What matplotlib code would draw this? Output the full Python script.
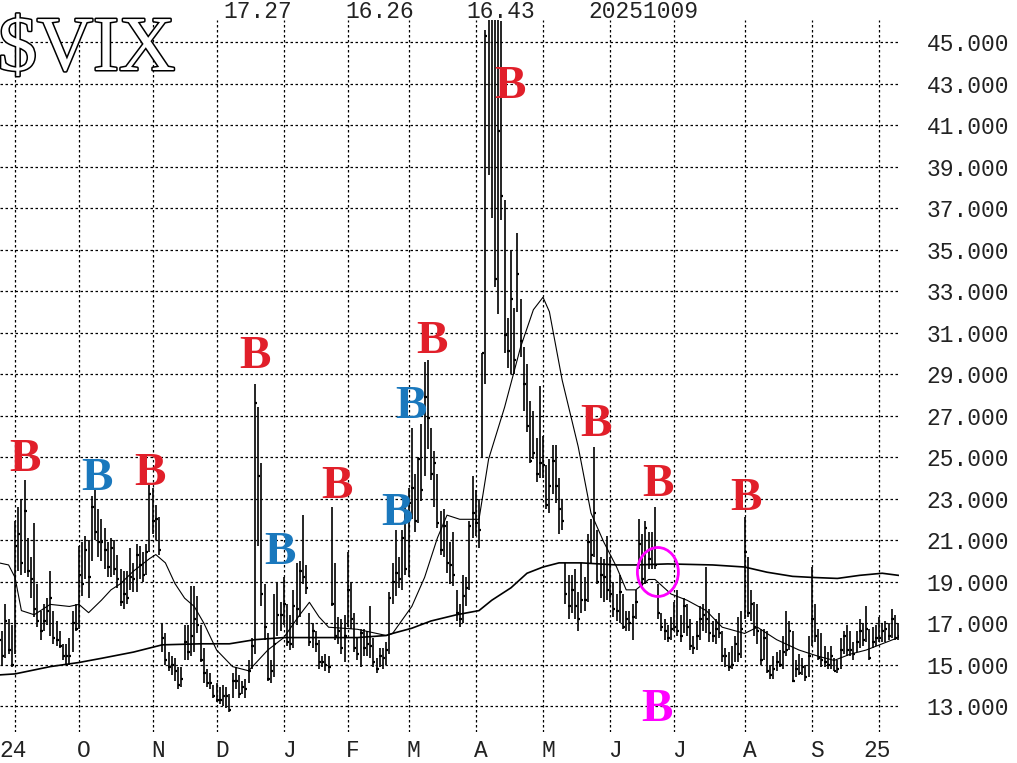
import numpy as np
import matplotlib.pyplot as plt
from matplotlib.patches import Ellipse
from matplotlib import patheffects
import matplotlib.transforms as mtransforms

# trading days per month on the chart (26 Aug 2024 .. 9 Oct 2025)
month_days = [5, 20, 23, 20, 21, 20, 19, 21, 21, 21, 20, 22, 21, 21, 7]
month_labels = ['', '24', 'O', 'N', 'D', 'J', 'F', 'M', 'A', 'M', 'J', 'J', 'A', 'S', '25']

# daily high / low / close, one month per line
high = [
    17.0, 16.6, 17.9, 17.2, 16.9,
    21.9, 22.6, 23.0, 23.9, 21.1, 20.2, 21.8, 18.9, 17.6, 17.9, 18.2, 19.5, 17.6, 17.1, 16.6, 16.0, 16.0, 16.3, 17.6, 17.9,
    20.7, 20.9, 21.2, 21.0, 23.1, 23.4, 22.5, 22.0, 21.6, 20.9, 21.1, 21.0, 20.3, 19.6, 19.5, 19.5, 20.6, 19.9, 20.8, 20.7, 20.4, 20.8, 23.7,
    23.5, 22.7, 22.1, 17.0, 16.5, 15.6, 15.4, 15.3, 14.9, 14.9, 16.9, 16.9, 18.8, 18.8, 18.3, 16.9, 15.8, 14.8, 14.6, 14.0,
    14.1, 13.9, 14.0, 13.9, 13.6, 14.6, 14.9, 14.5, 14.2, 14.3, 15.2, 16.3, 28.5, 27.4, 24.7, 18.9, 16.5, 15.2, 18.4, 19.0, 18.0,
    19.2, 17.9, 17.4, 18.6, 19.9, 20.0, 22.2, 19.8, 17.5, 17.0, 16.6, 16.2, 15.4, 15.5, 15.4, 22.6, 19.9, 17.3, 17.2, 17.4,
    20.4, 19.0, 17.5, 16.3, 16.7, 16.7, 16.6, 17.8, 16.3, 15.3, 15.8, 15.8, 16.1, 18.5, 19.9, 21.5, 20.2, 21.5, 22.7,
    23.5, 26.4, 24.2, 25.0, 26.6, 29.6, 29.7, 26.4, 25.3, 24.2, 22.4, 22.5, 21.9, 20.9, 21.4, 18.6, 17.9, 19.3, 19.2, 21.9, 24.1,
    23.4, 23.0, 30.0, 45.6, 60.1, 57.5, 57.5, 54.9, 46.0, 37.4, 31.7, 35.0, 32.2, 35.8, 32.6, 30.3, 29.5, 27.7, 27.2, 25.9, 28.4,
    26.0, 24.6, 24.9, 25.6, 25.6, 24.0, 23.0, 19.9, 19.3, 19.3, 19.6, 18.5, 19.9, 19.2, 21.3, 22.0, 25.5, 21.5, 20.2, 20.1, 21.2,
    20.2, 19.0, 18.4, 19.3, 18.4, 17.6, 17.6, 17.9, 18.6, 22.0, 21.3, 21.9, 21.4, 21.4, 22.6, 18.9, 17.5, 17.2, 16.9, 17.3,
    18.0, 18.6, 17.4, 18.2, 17.9, 17.2, 16.4, 17.1, 17.8, 17.9, 19.7, 17.7, 17.1, 17.2, 17.5, 16.6, 15.8, 15.6, 15.9, 16.4, 17.3, 17.6,
    22.1, 20.2, 18.6, 18.0, 17.9, 16.7, 16.7, 16.6, 15.0, 15.4, 15.6, 15.7, 16.4, 17.6, 17.1, 16.6, 15.2, 15.5, 15.3, 15.0, 16.4,
    19.7, 17.9, 16.7, 16.5, 15.9, 15.6, 15.9, 15.3, 15.2, 16.3, 16.6, 16.9, 16.6, 16.1, 16.6, 17.2, 17.0, 17.8, 16.7, 16.8, 16.9,
    17.3, 17.0, 17.1, 17.0, 17.7, 17.4, 17.0,
]
low = [
    15.6, 15.0, 15.3, 15.5, 14.9,
    15.5, 19.5, 19.3, 19.4, 19.2, 18.2, 17.3, 16.8, 16.2, 16.6, 16.9, 16.4, 16.0, 15.9, 15.8, 15.2, 15.0, 15.0, 15.6, 16.6,
    16.7, 18.3, 19.1, 18.2, 20.0, 21.0, 20.2, 20.0, 19.6, 19.2, 19.2, 19.3, 18.7, 17.8, 17.7, 17.9, 18.6, 18.5, 18.5, 19.1, 19.0, 19.3, 20.4,
    21.3, 21.0, 20.3, 15.6, 15.0, 14.7, 14.5, 14.2, 13.8, 13.9, 15.2, 15.2, 15.4, 15.6, 16.5, 15.1, 14.1, 13.9, 13.8, 13.4,
    13.2, 13.1, 13.0, 12.9, 12.7, 13.4, 13.8, 13.4, 13.6, 13.4, 14.1, 14.8, 15.5, 20.7, 17.8, 16.2, 14.2, 14.1, 14.4, 16.4, 16.6,
    16.9, 15.9, 15.7, 15.8, 16.9, 17.3, 18.9, 18.4, 15.9, 15.8, 15.6, 14.8, 14.9, 14.7, 14.6, 17.8, 16.2, 16.0, 15.5, 15.1,
    16.8, 16.7, 15.6, 15.2, 14.9, 15.4, 15.4, 15.3, 14.9, 14.6, 14.9, 14.8, 15.0, 15.5, 17.9, 18.3, 18.7, 18.6, 19.3,
    19.2, 22.0, 21.4, 21.8, 22.9, 24.1, 25.4, 23.9, 22.6, 21.6, 20.3, 20.2, 19.4, 18.9, 18.8, 17.1, 16.8, 17.0, 17.8, 18.6, 21.1,
    21.2, 20.6, 25.0, 28.5, 38.6, 36.5, 33.2, 31.9, 36.4, 30.0, 29.3, 29.0, 29.0, 32.0, 29.8, 27.2, 26.2, 24.7, 24.9, 23.8, 24.0,
    24.0, 22.5, 22.3, 23.2, 22.8, 21.3, 21.5, 17.9, 17.2, 17.5, 17.2, 16.6, 17.5, 17.6, 18.0, 19.9, 20.2, 18.9, 18.2, 18.0, 18.1,
    18.0, 17.3, 17.1, 17.0, 16.7, 16.6, 16.6, 16.2, 17.2, 19.6, 18.8, 18.9, 19.6, 19.6, 19.6, 17.2, 16.6, 16.2, 16.1, 16.2,
    16.6, 16.4, 16.1, 16.5, 16.4, 15.7, 15.5, 15.7, 16.2, 16.6, 16.5, 16.1, 16.1, 16.0, 16.3, 15.1, 14.9, 14.7, 14.8, 15.1, 15.1, 15.3,
    17.2, 17.3, 17.1, 16.4, 16.0, 15.0, 15.2, 14.6, 14.3, 14.3, 14.7, 14.9, 14.8, 15.4, 15.7, 14.2, 14.4, 14.5, 14.5, 14.2, 14.4,
    15.9, 16.1, 15.2, 14.9, 14.9, 14.8, 14.8, 14.7, 14.6, 14.8, 15.5, 15.4, 15.4, 15.2, 15.6, 15.8, 15.9, 16.1, 15.2, 15.8, 15.9,
    16.1, 16.1, 16.1, 16.2, 16.3, 16.2, 16.2,
]
close = [
    16.2, 15.4, 17.1, 15.7, 15.0,
    20.7, 21.3, 19.9, 22.4, 19.5, 19.1, 17.7, 17.1, 16.6, 17.1, 17.6, 18.2, 16.3, 16.2, 15.9, 15.4, 15.4, 15.4, 17.0, 16.7,
    19.3, 18.9, 20.5, 19.2, 22.6, 21.4, 20.9, 20.9, 20.5, 19.7, 20.6, 19.6, 19.1, 18.0, 18.4, 18.2, 19.2, 19.1, 20.3, 19.8, 19.3, 20.4, 23.2,
    21.9, 22.0, 20.5, 16.3, 15.2, 14.9, 15.0, 14.7, 14.0, 14.3, 16.1, 15.6, 16.4, 17.2, 16.9, 15.2, 14.6, 14.1, 14.1, 13.5,
    13.3, 13.3, 13.5, 13.5, 12.8, 14.2, 14.2, 13.6, 13.9, 13.8, 14.7, 15.9, 27.6, 24.1, 18.4, 16.8, 14.3, 14.7, 16.0, 17.4, 17.4,
    17.9, 16.1, 16.0, 17.8, 17.7, 19.5, 19.2, 18.7, 16.1, 16.6, 16.0, 15.1, 15.1, 15.0, 14.9, 17.9, 16.4, 16.6, 15.8, 16.4,
    18.6, 17.2, 15.8, 15.5, 16.5, 15.8, 16.0, 15.9, 15.1, 14.8, 15.4, 15.3, 15.7, 18.2, 19.0, 19.4, 19.1, 21.1, 19.6,
    22.8, 23.5, 21.9, 24.9, 23.4, 27.9, 26.9, 24.2, 24.7, 21.8, 20.5, 21.7, 19.9, 19.8, 19.3, 17.5, 17.2, 18.3, 18.7, 21.7, 22.3,
    21.8, 21.5, 30.0, 45.3, 47.0, 52.3, 33.6, 40.7, 37.6, 30.9, 30.1, 32.6, 29.7, 33.8, 30.6, 28.5, 26.5, 24.8, 25.2, 24.2, 24.7,
    24.6, 22.7, 23.6, 24.8, 23.6, 22.5, 21.9, 18.4, 17.8, 18.6, 17.8, 17.2, 18.1, 18.1, 20.9, 20.3, 22.3, 19.0, 19.3, 19.2, 18.6,
    18.4, 17.7, 17.6, 18.5, 16.8, 17.2, 17.0, 17.3, 18.0, 20.8, 19.1, 21.6, 20.1, 20.6, 19.8, 17.5, 16.8, 16.6, 16.3, 16.7,
    16.8, 16.6, 16.4, 17.8, 16.8, 15.9, 15.8, 16.4, 17.2, 17.4, 17.2, 16.5, 16.4, 16.7, 16.5, 15.4, 15.4, 14.9, 15.0, 16.0, 15.5, 16.7,
    20.4, 17.5, 17.9, 16.8, 16.6, 15.2, 16.3, 14.7, 14.5, 14.8, 15.1, 15.0, 15.6, 15.7, 16.6, 14.2, 14.8, 14.6, 14.9, 14.4, 15.4,
    17.2, 16.4, 15.3, 15.2, 15.1, 15.0, 15.4, 14.7, 14.8, 15.7, 16.4, 15.7, 15.7, 15.5, 16.1, 16.6, 16.2, 16.7, 15.3, 16.1, 16.3,
    16.3, 16.6, 16.7, 16.4, 17.2, 16.3, 16.4,
]

# moving averages (day index, value)
ma20_day = [0, 3, 5, 7, 11, 16, 22, 25, 28, 32, 35, 38, 42, 47, 49, 52, 55, 58, 61, 64, 68, 73, 78, 81, 84,
            89, 94, 97, 100, 103, 112, 121, 123, 129, 133, 137, 140, 144, 150, 153, 158, 163, 167, 170, 172,
            176, 181, 185, 189, 193, 196, 199, 203, 205, 210, 215, 221, 226, 233, 237, 243, 250, 256, 261,
            266, 271, 276, 281]
ma20 = [19.9, 19.8, 19.2, 17.6, 17.4, 17.9, 17.8, 17.9, 17.5, 18.1, 18.6, 18.9, 19.5, 20.1, 20.3, 19.9, 18.9,
        18.2, 17.8, 17.0, 15.7, 14.9, 14.7, 15.2, 15.7, 16.3, 17.4, 18.0, 17.3, 16.8, 16.7, 16.4, 16.5, 17.8,
        19.2, 21.1, 22.2, 22.0, 22.0, 24.9, 27.4, 30.3, 32.1, 32.7, 32.0, 28.7, 25.5, 22.3, 20.9, 19.7, 18.6,
        18.6, 19.1, 19.1, 18.4, 18.1, 17.6, 16.8, 16.5, 16.8, 16.2, 15.7, 15.4, 15.2, 15.5, 15.7, 16.0, 16.3]
ma200_day = [0, 5, 16, 25, 32, 42, 51, 63, 72, 80, 89, 102, 112, 121, 123, 129, 135, 143, 150, 154, 160,
             165, 170, 175, 182, 193, 199, 209, 223, 233, 240, 248, 254, 262, 269, 276, 281]
ma200 = [14.5, 14.55, 14.9, 15.1, 15.3, 15.6, 15.95, 16.0, 16.0, 16.2, 16.3, 16.3, 16.3, 16.4, 16.5, 16.75,
         17.1, 17.4, 17.6, 18.1, 18.7, 19.4, 19.7, 19.9, 19.9, 19.8, 19.8, 19.85, 19.8, 19.7, 19.45, 19.25,
         19.2, 19.15, 19.3, 19.4, 19.3]

# "B" signals: day index, baseline level, colour
sig_day = [8.1, 30.6, 47.2, 80.0, 87.8, 105.6, 124.4, 128.7, 135.3, 159.7, 186.6, 205.9, 233.4, 205.6]
sig_level = [24.33, 23.43, 23.63, 29.28, 19.83, 23.03, 21.73, 26.88, 30.03, 42.3, 26.03, 23.13, 22.43, 12.28]
sig_color = ['red', 'blue', 'red', 'red', 'blue', 'red', 'blue', 'blue', 'red', 'red', 'red', 'red', 'red', 'magenta']
colors = {'red': '#e11f2a', 'blue': '#1a78bd', 'magenta': '#ff00ff'}

top_labels = ['17.27', '16.26', '16.43', '20251009']
top_label_px = [223, 345, 466, 588]

W, H = 1017, 763
mono = 'Liberation Mono'

fig = plt.figure(figsize=(W / 100, H / 100), dpi=100)
ax = fig.add_axes([0, 1 - 732 / H, 899 / W, 712 / H])

x = np.arange(len(close))
ax.vlines(x, low, high, color='black', lw=1.2, zorder=3)
ax.hlines(close, x - 0.1, x + 0.6, color='black', lw=1.6, zorder=3)
ax.plot(ma20_day, ma20, color='black', lw=0.8, zorder=4)
ax.plot(ma200_day, ma200, color='black', lw=1.2, zorder=4)

for d, lv, c in zip(sig_day, sig_level, sig_color):
    ax.text(d, lv, 'B', color=colors[c], family='Liberation Serif', weight='bold',
            fontsize=34, ha='center', va='baseline', zorder=5)

ax.add_patch(Ellipse((205.9, 19.46), 12.8, 2.36, fill=False, edgecolor='#ff00ff', lw=2.0, zorder=6))

# axes, ticks and grid
ax.set_xlim(0.3125, 281.25)
ax.set_ylim(11.75, 46.06)
starts = np.cumsum([0] + month_days[:-1])
ax.set_xticks(starts[1:])
ax.set_xticklabels(month_labels[1:], family=mono, fontsize=16.5, color='#222222')

yt = np.arange(13, 46, 2)
ax.set_yticks(yt)
ax.set_yticklabels(['%.3f' % v for v in yt], family=mono, fontsize=16.5, color='#222222')
ax.yaxis.tick_right()
ax.tick_params(axis='y', length=0, pad=20)
ax.tick_params(axis='x', length=0, pad=5)
for s in ax.spines.values():
    s.set_visible(False)
ax.set_axisbelow(True)
ax.grid(True, color='black', linestyle=(0, (2, 2)), linewidth=0.9)

# month letters sit just right of their grid line (after tick_params, which resets transforms)
shift = mtransforms.ScaledTranslation(12 / 100, 0, fig.dpi_scale_trans)
for lab in ax.get_xticklabels():
    lab.set_horizontalalignment('right')
    lab.set_transform(lab.get_transform() + shift)

# header texts
title = fig.text(-2 / W, 1 - 70 / H, '$VIX', family='Liberation Serif', fontsize=56, color='white')
title.set_path_effects([patheffects.Stroke(linewidth=2.2, foreground='black'), patheffects.Normal()])
for s, px in zip(top_labels, top_label_px):
    fig.text(px / W, 1 - 18 / H, s, family=mono, fontsize=16.5, color='#222222')

fig.savefig('out.png', dpi=100)
